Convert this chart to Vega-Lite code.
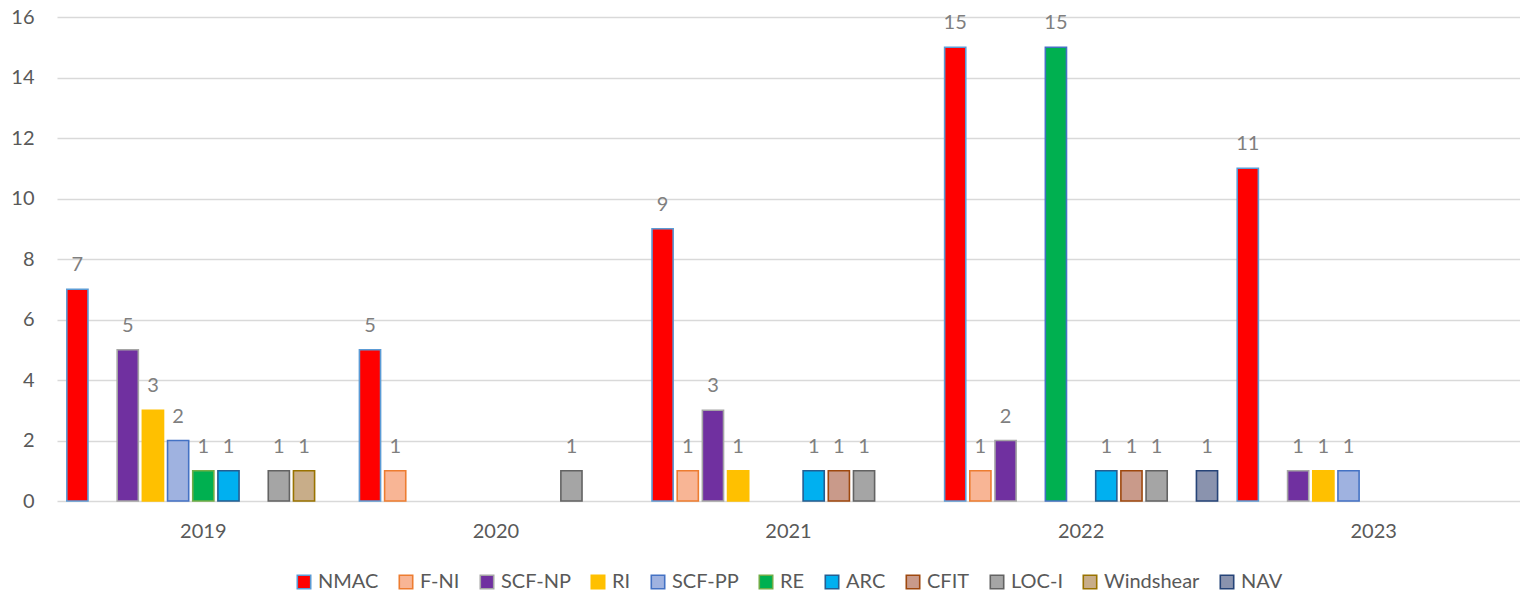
{
  "$schema": "https://vega.github.io/schema/vega-lite/v6.json",
  "width": 1463,
  "height": 484,
  "autosize": {"type": "none"},
  "padding": {"left": 57, "top": 17, "right": 0, "bottom": 95},
  "background": "white",
  "config": {
    "font": "Lato",
    "view": {"stroke": null},
    "axis": {"labelFont": "Lato", "labelColor": "#595959", "labelFontSize": 20, "ticks": false, "domain": false, "title": null},
    "legend": {"layout": {"bottom": {"anchor": "middle"}}}
  },
  "data": {
    "values": [
      {"year": "2019", "cat": "NMAC", "n": 7},
      {"year": "2019", "cat": "SCF-NP", "n": 5},
      {"year": "2019", "cat": "RI", "n": 3},
      {"year": "2019", "cat": "SCF-PP", "n": 2},
      {"year": "2019", "cat": "RE", "n": 1},
      {"year": "2019", "cat": "ARC", "n": 1},
      {"year": "2019", "cat": "LOC-I", "n": 1},
      {"year": "2019", "cat": "Windshear", "n": 1},
      {"year": "2020", "cat": "NMAC", "n": 5},
      {"year": "2020", "cat": "F-NI", "n": 1},
      {"year": "2020", "cat": "LOC-I", "n": 1},
      {"year": "2021", "cat": "NMAC", "n": 9},
      {"year": "2021", "cat": "F-NI", "n": 1},
      {"year": "2021", "cat": "SCF-NP", "n": 3},
      {"year": "2021", "cat": "RI", "n": 1},
      {"year": "2021", "cat": "ARC", "n": 1},
      {"year": "2021", "cat": "CFIT", "n": 1},
      {"year": "2021", "cat": "LOC-I", "n": 1},
      {"year": "2022", "cat": "NMAC", "n": 15},
      {"year": "2022", "cat": "F-NI", "n": 1},
      {"year": "2022", "cat": "SCF-NP", "n": 2},
      {"year": "2022", "cat": "SCF-PP", "n": 15},
      {"year": "2022", "cat": "ARC", "n": 1},
      {"year": "2022", "cat": "CFIT", "n": 1},
      {"year": "2022", "cat": "LOC-I", "n": 1},
      {"year": "2022", "cat": "NAV", "n": 1},
      {"year": "2023", "cat": "NMAC", "n": 11},
      {"year": "2023", "cat": "SCF-NP", "n": 1},
      {"year": "2023", "cat": "RI", "n": 1},
      {"year": "2023", "cat": "SCF-PP", "n": 1}
    ]
  },
  "encoding": {
    "x": {
      "field": "year", "type": "nominal",
      "scale": {"paddingInner": 0, "paddingOuter": 0},
      "axis": {"labelAngle": 0, "labelPadding": 20, "grid": false}
    },
    "xOffset": {
      "field": "cat", "type": "nominal",
      "scale": {
        "domain": ["NMAC", "F-NI", "SCF-NP", "RI", "SCF-PP", "RE", "ARC", "CFIT", "LOC-I", "Windshear", "NAV"],
        "paddingInner": 0.16, "paddingOuter": 0.39
      }
    },
    "y": {
      "field": "n", "type": "quantitative",
      "scale": {"domain": [0, 16], "nice": false},
      "axis": {"values": [0, 2, 4, 6, 8, 10, 12, 14, 16], "grid": true, "gridColor": "#D9D9D9", "gridWidth": 1.3, "labelPadding": 23}
    }
  },
  "layer": [
    {
      "mark": {"type": "bar", "strokeWidth": 1.6},
      "encoding": {
        "fill": {
          "condition": {"test": "datum.year == '2022' && datum.cat == 'SCF-PP'", "value": "#00B050"},
          "field": "cat", "type": "nominal",
          "scale": {
            "domain": ["NMAC", "F-NI", "SCF-NP", "RI", "SCF-PP", "RE", "ARC", "CFIT", "LOC-I", "Windshear", "NAV"],
            "range": ["#FF0000", "#F8B595", "#7030A0", "#FFC000", "#9FB2E0", "#00B050", "#00B0F0", "#C99A8A", "#A5A5A5", "#C8AD89", "#8A93AE"]
          },
          "legend": {
            "orient": "bottom", "direction": "horizontal", "title": null,
            "symbolType": "square", "symbolSize": 180, "symbolStrokeWidth": 1.6,
            "labelFont": "Lato", "labelFontSize": 20, "labelColor": "#595959",
            "columnPadding": 17, "labelOffset": 4, "offset": 31
          }
        },
        "stroke": {
          "field": "cat", "type": "nominal",
          "scale": {
            "domain": ["NMAC", "F-NI", "SCF-NP", "RI", "SCF-PP", "RE", "ARC", "CFIT", "LOC-I", "Windshear", "NAV"],
            "range": ["#5B9BD5", "#ED7D31", "#A5A5A5", "#FFC000", "#4472C4", "#70AD47", "#255E91", "#9E480E", "#636363", "#997300", "#264478"]
          }
        }
      }
    },
    {
      "mark": {"type": "text", "baseline": "bottom", "dy": -14, "fontSize": 20, "color": "#7F7F7F", "font": "Lato"},
      "encoding": {"text": {"field": "n", "type": "quantitative"}}
    }
  ]
}
